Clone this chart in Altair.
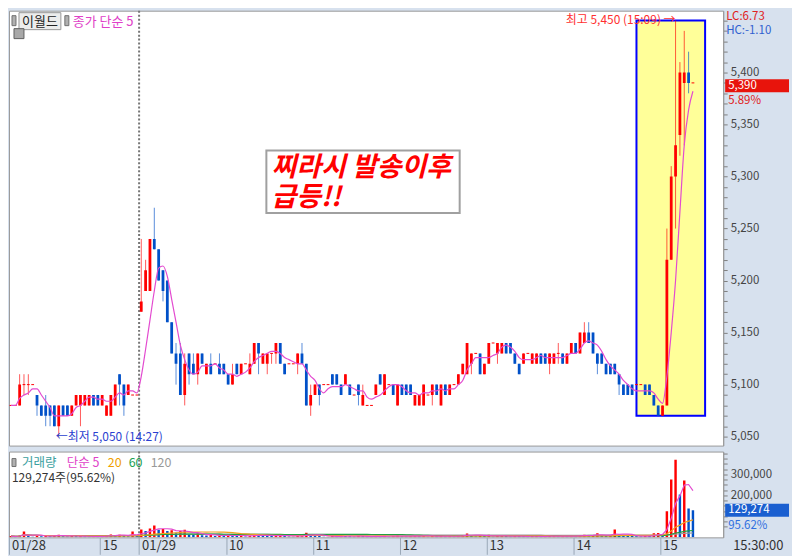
import altair as alt
import pandas as pd

# ---------------- data (3-minute candles, 01/28 afternoon .. 01/29) ----------------
O = [5080, 5080, 5080, 5100, 5100, 5100, 5090, 5080, 5080, 5080,
     5080, 5060, 5080, 5080, 5070, 5080, 5080, 5080, 5080, 5090,
     5090, 5080, 5070, 5070, 5080, 5110, 5100, 5090, 5090, 5090,
     5170, 5190, 5190, 5240, 5230, 5210, 5200, 5160, 5130, 5130,
     5090, 5130, 5120, 5110, 5130, 5110, 5120, 5120, 5120, 5120,
     5110, 5100, 5120, 5110, 5120, 5110, 5120, 5140, 5120, 5120,
     5130, 5130, 5140, 5120, 5120, 5120, 5120, 5130, 5120, 5080,
     5090, 5100, 5100, 5100, 5110, 5110, 5100, 5100, 5100, 5090,
     5100, 5080, 5080, 5080, 5090, 5110, 5090, 5100, 5100, 5080,
     5100, 5100, 5100, 5080, 5080, 5080, 5090, 5090, 5100, 5080,
     5100, 5090, 5100, 5100, 5110, 5110, 5120, 5130, 5130, 5110,
     5120, 5140, 5130, 5130, 5140, 5140, 5130, 5120, 5120, 5130,
     5120, 5120, 5130, 5130, 5120, 5120, 5130, 5130, 5120, 5130,
     5140, 5130, 5140, 5150, 5150, 5130, 5130, 5120, 5120, 5120,
     5110, 5100, 5100, 5100, 5100, 5100, 5100, 5100, 5090, 5080,
     5070, 5080, 5220, 5300, 5340, 5390, 5400, 5390]
H = [5080, 5080, 5110, 5110, 5110, 5100, 5090, 5080, 5090, 5080,
     5080, 5080, 5080, 5080, 5080, 5090, 5090, 5090, 5090, 5090,
     5090, 5090, 5080, 5090, 5100, 5110, 5100, 5100, 5090, 5090,
     5240, 5220, 5240, 5270, 5230, 5210, 5200, 5160, 5140, 5140,
     5130, 5130, 5130, 5130, 5130, 5120, 5130, 5120, 5130, 5120,
     5110, 5120, 5120, 5120, 5120, 5130, 5140, 5140, 5130, 5130,
     5130, 5140, 5140, 5120, 5120, 5120, 5130, 5140, 5120, 5100,
     5100, 5100, 5100, 5100, 5110, 5110, 5100, 5110, 5100, 5090,
     5100, 5100, 5080, 5080, 5100, 5110, 5110, 5100, 5100, 5100,
     5100, 5100, 5100, 5090, 5090, 5100, 5090, 5100, 5100, 5100,
     5100, 5100, 5100, 5110, 5120, 5140, 5130, 5130, 5130, 5120,
     5140, 5140, 5140, 5140, 5140, 5140, 5130, 5120, 5130, 5130,
     5130, 5130, 5130, 5130, 5130, 5130, 5140, 5130, 5130, 5140,
     5140, 5150, 5160, 5160, 5150, 5130, 5130, 5120, 5120, 5120,
     5110, 5100, 5100, 5100, 5100, 5100, 5100, 5100, 5090, 5080,
     5080, 5250, 5310, 5450, 5410, 5440, 5420, 5390]
L = [5080, 5080, 5080, 5090, 5090, 5100, 5070, 5070, 5060, 5060,
     5060, 5050, 5070, 5070, 5070, 5080, 5060, 5080, 5080, 5080,
     5080, 5080, 5070, 5070, 5080, 5080, 5070, 5090, 5090, 5090,
     5170, 5190, 5190, 5230, 5200, 5180, 5160, 5130, 5100, 5090,
     5080, 5100, 5110, 5100, 5120, 5110, 5110, 5120, 5110, 5110,
     5100, 5100, 5110, 5110, 5120, 5110, 5120, 5110, 5120, 5110,
     5120, 5120, 5120, 5110, 5120, 5120, 5110, 5120, 5080, 5070,
     5090, 5080, 5100, 5100, 5100, 5100, 5090, 5100, 5090, 5090,
     5080, 5080, 5080, 5080, 5090, 5100, 5090, 5100, 5090, 5080,
     5090, 5090, 5090, 5080, 5080, 5080, 5090, 5080, 5090, 5080,
     5090, 5090, 5100, 5100, 5110, 5110, 5110, 5130, 5110, 5110,
     5120, 5140, 5120, 5130, 5130, 5130, 5120, 5110, 5120, 5130,
     5120, 5120, 5120, 5120, 5110, 5120, 5120, 5120, 5120, 5130,
     5130, 5130, 5140, 5140, 5130, 5110, 5120, 5110, 5110, 5110,
     5090, 5090, 5090, 5090, 5100, 5100, 5090, 5090, 5080, 5070,
     5070, 5080, 5220, 5250, 5320, 5330, 5380, 5390]
C = [5080, 5080, 5100, 5100, 5100, 5100, 5080, 5070, 5070, 5070,
     5060, 5080, 5070, 5070, 5080, 5090, 5090, 5090, 5090, 5080,
     5080, 5090, 5080, 5090, 5100, 5100, 5080, 5100, 5090, 5090,
     5180, 5210, 5240, 5230, 5200, 5190, 5160, 5130, 5120, 5090,
     5120, 5110, 5110, 5130, 5120, 5120, 5110, 5120, 5110, 5110,
     5100, 5110, 5110, 5120, 5120, 5120, 5140, 5130, 5130, 5130,
     5130, 5140, 5120, 5110, 5120, 5120, 5130, 5120, 5080, 5090,
     5100, 5090, 5100, 5100, 5100, 5100, 5090, 5110, 5090, 5090,
     5090, 5090, 5080, 5080, 5100, 5100, 5110, 5100, 5090, 5100,
     5090, 5090, 5090, 5090, 5090, 5100, 5090, 5100, 5090, 5100,
     5090, 5100, 5100, 5110, 5120, 5140, 5130, 5130, 5110, 5120,
     5140, 5140, 5140, 5140, 5130, 5130, 5120, 5110, 5130, 5130,
     5130, 5130, 5120, 5120, 5130, 5130, 5130, 5120, 5130, 5140,
     5130, 5150, 5150, 5140, 5130, 5120, 5120, 5110, 5110, 5110,
     5100, 5090, 5090, 5090, 5100, 5100, 5090, 5090, 5080, 5070,
     5080, 5220, 5300, 5330, 5400, 5400, 5390, 5390]
V = [6000, 4000, 9000, 28000, 7000, 3000, 8000, 5000, 9000, 6000,
     7000, 12000, 5000, 4000, 6000, 5000, 8000, 4000, 3000, 5000,
     4000, 6000, 9000, 14000, 10000, 12000, 8000, 5000, 28000, 6000,
     38000, 30000, 42000, 57000, 36000, 40000, 30000, 34000, 22000, 30000,
     36000, 14000, 12000, 20000, 10000, 9000, 12000, 6000, 9000, 8000,
     14000, 7000, 6000, 9000, 4000, 8000, 16000, 10000, 8000, 7000,
     6000, 10000, 12000, 7000, 4000, 3000, 8000, 9000, 22000, 12000,
     9000, 8000, 3000, 2000, 6000, 5000, 7000, 6000, 5000, 3000,
     8000, 6000, 2000, 3000, 7000, 5000, 8000, 3000, 5000, 9000,
     6000, 4000, 7000, 8000, 6000, 9000, 3000, 7000, 5000, 8000,
     4000, 6000, 3000, 9000, 11000, 18000, 9000, 4000, 10000, 6000,
     12000, 3000, 7000, 8000, 6000, 4000, 7000, 6000, 5000, 2000,
     6000, 7000, 4000, 5000, 6000, 7000, 5000, 6000, 5000, 8000,
     6000, 9000, 12000, 9000, 10000, 19000, 7000, 6000, 10000, 38000,
     12000, 9000, 7000, 6000, 5000, 4000, 8000, 7000, 19000, 21000,
     14000, 124000, 276000, 371000, 205000, 271000, 138000, 129274]

TICK_IDX = [-0.45, 20.5, 29.5, 49.5, 69.5, 89.5, 109.5, 129.5, 149.5]
TICK_LBL = ["01/28", "15", "01/29", "10", "11", "12", "13", "14", "15"]
DAY_BREAK = [29.5]
PRICE_TICKS = list(range(5050, 5451, 10))
VOL_TICKS = list(range(50000, 400001, 25000))

HIGH_I, HIGH_P = 153, 5450
LOW_I, LOW_P = 11, 5050
BOX = dict(x1=[144.0], x2=[159.8], y1=[5070], y2=[5450])
NOTE = dict(x1=[58.8], x2=[103.3], y1=[5265], y2=[5325])
NOTE_LINES = ["찌라시 발송이후", "급등!!"]
NOTE_Y = [5321, 5292]
CUR_P, CUR_V = 5390, 129274

N = len(C)
df = pd.DataFrame({"i": list(range(N)), "o": O, "h": H, "l": L, "c": C, "v": V})
ticks_df = pd.DataFrame({"i": TICK_IDX, "t": TICK_LBL})

# ---------------- layout constants ----------------
W, HP, HV = 716, 436, 86
RED, BLUE = "#ff0000", "#0050c8"
PINK = "#e34bd0"
FONT = "Noto Sans CJK KR"

xs = alt.Scale(domain=[-0.45, 163.96], nice=False, zero=False)
ys = alt.Scale(domain=[5041.4, 5459.4], nice=False, zero=False)
vs = alt.Scale(domain=[0, 409500], nice=False, zero=False)

yaxis = alt.Axis(orient="right", values=PRICE_TICKS, title=None, grid=False,
                 labelExpr="datum.value % 50 === 0 && datum.value <= 5400 ? format(datum.value, ',') : ''",
                 tickSize=4, tickColor="#808080", domainColor="#9a9a9a",
                 labelColor="#444444", labelFontSize=11.5, labelPadding=3, labelFont=FONT)

xaxis = alt.Axis(values=TICK_IDX, labels=False, title=None, grid=False, domain=False,
                 tickSize=17, tickColor="#9aa8b8")

vaxis = alt.Axis(orient="right", values=VOL_TICKS, title=None, grid=False,
                 labelExpr="datum.value == 200000 || datum.value == 300000 ? format(datum.value, ',') : ''",
                 tickSize=4, tickColor="#808080", domainColor="#9a9a9a",
                 labelColor="#444444", labelFontSize=11.5, labelPadding=3, labelFont=FONT)

X = lambda f: alt.X(f, scale=xs, axis=None)
Y = lambda f: alt.Y(f, scale=ys, axis=yaxis)


def px_text(text, x, y, color, size=12, align="left", **kw):
    return alt.Chart(pd.DataFrame({"t": [text]})).mark_text(
        align=align, baseline="middle", color=color, fontSize=size, font=FONT, **kw
    ).encode(x=alt.value(x), y=alt.value(y), text="t:N")


def px_rect(x1, x2, y1, y2, fill, stroke=None):
    kw = dict(fill=fill)
    if stroke:
        kw.update(stroke=stroke, strokeWidth=1)
    return alt.Chart(pd.DataFrame({"a": [0]})).mark_rect(**kw).encode(
        x=alt.value(x1), x2=alt.value(x2), y=alt.value(y1), y2=alt.value(y2))


# ---------------- price panel ----------------
base = alt.Chart(df).transform_calculate(
    xl="datum.i - 0.32", xr="datum.i + 0.32",
    dir="datum.c >= datum.o ? 'up' : 'down'")
col = alt.Color("dir:N", scale=alt.Scale(domain=["up", "down"], range=[RED, BLUE]), legend=None)

box = alt.Chart(pd.DataFrame(BOX)).mark_rect(fill="#ffff99", stroke="#0000ff", strokeWidth=2).encode(
    x=X("x1:Q"), x2="x2:Q", y=Y("y1:Q"), y2="y2:Q")

note_box = alt.Chart(pd.DataFrame(NOTE)).mark_rect(fill="white", stroke="#a0a0a0", strokeWidth=2).encode(
    x=X("x1:Q"), x2="x2:Q", y=Y("y1:Q"), y2="y2:Q")
note_txt = alt.Chart(pd.DataFrame({"x": [NOTE["x1"][0] + 1.2] * 2, "y": NOTE_Y, "t": NOTE_LINES})).mark_text(
    align="left", baseline="top", fontSize=27, fontWeight="bold", fontStyle="italic",
    color="#ff0000", font=FONT).encode(x=X("x:Q"), y=Y("y:Q"), text="t:N")

wick = base.mark_rule(strokeWidth=1, opacity=0.65, clip=True).encode(x=X("i:Q"), y=Y("l:Q"), y2="h:Q", color=col)
body = base.mark_rect(clip=True).encode(x=X("xl:Q"), x2="xr:Q", y=Y("o:Q"), y2="c:Q", color=col)
doji = base.transform_filter("datum.o == datum.c").mark_rule(strokeWidth=1, clip=True).encode(
    x=X("xl:Q"), x2="xr:Q", y=Y("c:Q"), color=col)
ma5 = base.transform_window(ma="mean(c)", frame=[-4, 0], sort=[alt.SortField("i")]).mark_line(
    color=PINK, strokeWidth=1.2, interpolate="monotone", clip=True).encode(x=X("i:Q"), y=Y("ma:Q"))

sep_p = alt.Chart(pd.DataFrame({"d": DAY_BREAK})).mark_rule(
    color="#777777", strokeDash=[2, 2], strokeWidth=2).encode(x=X("d:Q"))

hi_txt = alt.Chart(pd.DataFrame({"x": [HIGH_I], "y": [HIGH_P], "t": [f"최고 {HIGH_P:,} (15:09) →"]})).mark_text(
    align="right", baseline="middle", color="#ff3030", fontSize=12, font=FONT).encode(
    x=X("x:Q"), y=Y("y:Q"), text="t:N")
lo_txt = alt.Chart(pd.DataFrame({"x": [LOW_I], "y": [LOW_P], "t": [f"←최저 {LOW_P:,} (14:27)"]})).mark_text(
    align="left", baseline="middle", color="#2a3fd0", fontSize=12, font=FONT, dx=-3).encode(
    x=X("x:Q"), y=Y("y:Q"), text="t:N")

cur_box = alt.Chart(pd.DataFrame({"y1": [CUR_P + 3.5], "y2": [CUR_P - 9]})).mark_rect(color="#e8140c").encode(
    x=alt.value(W + 2), x2=alt.value(W + 66), y=Y("y1:Q"), y2="y2:Q")
cur_txt = alt.Chart(pd.DataFrame({"y": [CUR_P - 3], "t": [f"{CUR_P:,}"]})).mark_text(
    align="left", baseline="middle", color="white", fontSize=11.5, font=FONT).encode(
    x=alt.value(W + 5), y=Y("y:Q"), text="t:N")
pct_txt = alt.Chart(pd.DataFrame({"y": [CUR_P - 17], "t": ["5.89%"]})).mark_text(
    align="left", baseline="middle", color="#e02020", fontSize=11.5, font=FONT).encode(
    x=alt.value(W + 5), y=Y("y:Q"), text="t:N")

price = alt.layer(
    box, note_box, note_txt, sep_p, wick, body, doji, ma5, hi_txt, lo_txt,
    cur_box, cur_txt, pct_txt,
    px_text("LC:6.73", W + 3, 6, "#e02020", 11.5),
    px_text("HC:-1.10", W + 3, 20, "#3060d0", 11.5),
    px_rect(3, 7, 5, 15, "#b0b0b0", "#707070"),
    px_rect(10, 52, 2, 19, "#ececec", "#999999"),
    px_text("이월드", 31, 11, "#222222", 13, align="center"),
    px_rect(56, 60, 5, 15, "#b0b0b0", "#707070"),
    px_text("종가 단순 5", 64, 11, "#e040c8", 13),
    px_rect(5, 15, 18, 28, "#a8a8a8", "#606060"),
).properties(width=W, height=HP)

# ---------------- volume panel ----------------
XV = lambda f: alt.X(f, scale=xs, axis=xaxis)
YV = lambda f: alt.Y(f, scale=vs, axis=vaxis)

vbase = alt.Chart(df).transform_window(prev="lag(v)", sort=[alt.SortField("i")]).transform_calculate(
    vdir="datum.prev == null || datum.v >= datum.prev ? 'up' : 'down'",
    xl="datum.i - 0.28", xr="datum.i + 0.28", zero="0")
vcol = alt.Color("vdir:N", scale=alt.Scale(domain=["up", "down"], range=[RED, "#1060d0"]), legend=None)

vbars = vbase.mark_rect(clip=True).encode(x=XV("xl:Q"), x2="xr:Q", y=YV("v:Q"), y2="zero:Q", color=vcol)


def vma(n, color):
    return alt.Chart(df).transform_window(m="mean(v)", frame=[-(n - 1), 0], sort=[alt.SortField("i")]).mark_line(
        color=color, strokeWidth=1.2, clip=True).encode(x=XV("i:Q"), y=YV("m:Q"))


sep_v = alt.Chart(pd.DataFrame({"d": DAY_BREAK})).mark_rule(
    color="#777777", strokeDash=[2, 2], strokeWidth=2).encode(x=XV("d:Q"))

vbox = alt.Chart(pd.DataFrame({"y1": [160000], "y2": [98000]})).mark_rect(color="#1a5fd0").encode(
    x=alt.value(W + 2), x2=alt.value(W + 66), y=YV("y1:Q"), y2="y2:Q")
vtxt = alt.Chart(pd.DataFrame({"y": [CUR_V], "t": [f"{CUR_V:,}"]})).mark_text(
    align="left", baseline="middle", color="white", fontSize=11.5, font=FONT).encode(
    x=alt.value(W + 5), y=YV("y:Q"), text="t:N")
vpct = alt.Chart(pd.DataFrame({"y": [56000], "t": ["95.62%"]})).mark_text(
    align="left", baseline="middle", color="#3070e0", fontSize=11.5, font=FONT).encode(
    x=alt.value(W + 5), y=YV("y:Q"), text="t:N")

time_lbl = alt.Chart(ticks_df).mark_text(
    align="left", baseline="middle", dx=3, color="#333333", fontSize=13, font=FONT).encode(
    x=XV("i:Q"), y=alt.value(HV + 9), text="t:N")

volume = alt.layer(
    sep_v, vbars, vma(120, "#9a9a9a"), vma(60, "#20a040"), vma(20, "#f0a020"), vma(5, PINK),
    vbox, vtxt, vpct, time_lbl,
    px_rect(3, 7, 7, 15, "#b0b0b0", "#707070"),
    px_text("거래량", 13, 11, "#3aa0a0", 12.5),
    px_text("단순 5", 58, 11, "#e040c8", 12.5),
    px_text("20", 99, 11, "#f0a000", 12.5),
    px_text("60", 120, 11, "#20a050", 12.5),
    px_text("120", 142, 11, "#999999", 12.5),
    px_text(f"{CUR_V:,}주(95.62%)", 3, 27, "#333333", 12),
    px_text("15:30:00", W + 10, HV + 9, "#333333", 13),
).properties(width=W, height=HV)

chart = alt.vconcat(price, volume, spacing=2).properties(
    padding={"left": 0, "top": 0, "right": 2, "bottom": 0}
).configure(background="#d7e1ee", font=FONT).configure_view(
    stroke="#9a9a9a", strokeWidth=1, fill="white")

chart.save("out.html", embed_options={"renderer": "svg", "actions": False})
